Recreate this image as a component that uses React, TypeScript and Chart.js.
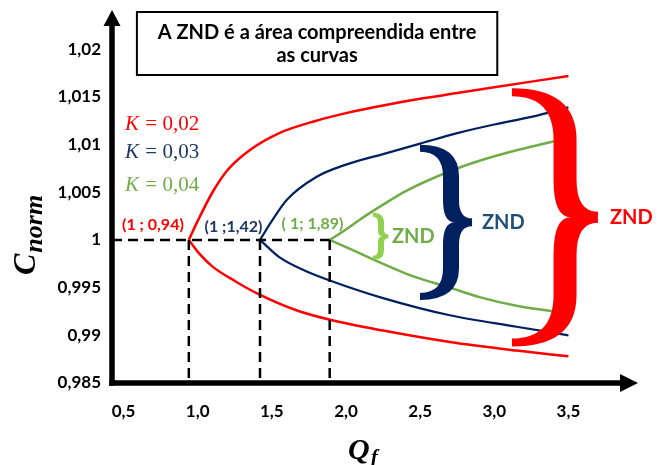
import React, { useEffect, useRef } from 'react';
import { Chart, registerables } from 'chart.js';

Chart.register(...registerables);

// ---- data ----
const xTicks = [0.5, 1, 1.5, 2, 2.5, 3, 3.5];
const xTickLabels = ['0,5', '1,0', '1,5', '2,0', '2,5', '3,0', '3,5'];
const yTicks = [0.985, 0.99, 0.995, 1, 1.005, 1.01, 1.015, 1.02];
const yTickLabels = ['0,985', '0,99', '0,995', '1', '1,005', '1,01', '1,015', '1,02'];

const redUpperQf = [0.94, 1.0, 1.1, 1.2, 1.35, 1.55, 1.8, 2.0, 2.25, 2.5, 2.75, 3.0, 3.25, 3.5];
const redUpperC = [1.0, 1.002, 1.005, 1.0073, 1.0094, 1.0112, 1.0125, 1.0133, 1.0141, 1.0148, 1.0154, 1.016, 1.0166, 1.0172];
const redLowerQf = [0.94, 1.02, 1.1, 1.25, 1.4, 1.67, 1.9, 2.25, 2.7, 3.15, 3.5];
const redLowerC = [1.0, 0.9984, 0.9972, 0.9957, 0.9944, 0.9926, 0.9916, 0.9905, 0.9893, 0.9884, 0.9878];

const blueUpperQf = [1.42, 1.5, 1.6, 1.8, 2.0, 2.25, 2.5, 2.75, 3.0, 3.25, 3.5];
const blueUpperC = [1.0, 1.002, 1.0042, 1.0066, 1.0079, 1.009, 1.0101, 1.0112, 1.0121, 1.0129, 1.0139];
const blueLowerQf = [1.42, 1.55, 1.72, 1.9, 2.25, 2.7, 3.15, 3.5];
const blueLowerC = [1.0, 0.9982, 0.9968, 0.9957, 0.9939, 0.9921, 0.9909, 0.99];

const greenUpperQf = [1.89, 2.0, 2.1, 2.25, 2.4, 2.7, 2.9, 3.15, 3.5];
const greenUpperC = [1.0, 1.0011, 1.0022, 1.0037, 1.0051, 1.0072, 1.0083, 1.0094, 1.0107];
const greenLowerQf = [1.89, 2.05, 2.25, 2.45, 2.7, 2.9, 3.15, 3.5];
const greenLowerC = [1.0, 0.9989, 0.9975, 0.9962, 0.995, 0.994, 0.9931, 0.9923];

const branchQf = [0.94, 1.42, 1.89];
const branchLabels = ['(1 ; 0,94)', '(1 ;1,42)', '( 1; 1,89)'];
const kLabels = ['0,02', '0,03', '0,04'];
const titleLines = ['A ZND é a área compreendida entre', 'as curvas'];

const RED = '#FF0000';
const BLUE = '#002060';
const GREEN = '#70AD47';

const X_MIN = 0.422;
const X_MAX = 3.969;
const Y_MIN = 0.985;
const Y_MAX = 1.02411;

// annotation anchors in data units
const branchLabelPos = [
  { x: 0.698, y: 1.00158, color: RED },
  { x: 1.241, y: 1.00142, color: '#1F3864' },
  { x: 1.774, y: 1.00174, color: GREEN },
];
const kLabelPos = [
  { x: 0.51, y: 1.01213, color: RED },
  { x: 0.51, y: 1.00914, color: '#1F3864' },
  { x: 0.51, y: 1.00573, color: GREEN },
];
const braces = [
  { tip: 2.182, arm: 2.236, point: 2.286, top: 1.00263, bot: 0.99812, t: 6, tt: 4, tp: 4, color: '#92D050' },
  { tip: 2.499, arm: 2.708, point: 2.85, top: 1.00961, bot: 0.99408, t: 16, tt: 7, tp: 8, color: '#002060' },
  { tip: 3.119, arm: 3.477, point: 3.699, top: 1.01549, bot: 0.98925, t: 23, tt: 8, tp: 11, color: RED },
];
const zndLabels = [
  { x: 2.31, y: 1.00032, color: GREEN },
  { x: 2.917, y: 1.00179, color: '#1F4E79' },
  { x: 3.78, y: 1.00232, color: RED },
];

function pts(xs: number[], ys: number[]) {
  return xs.map((x, i) => ({ x, y: ys[i] }));
}

function curve(xs: number[], ys: number[], color: string, width: number) {
  return {
    data: pts(xs, ys),
    borderColor: color,
    borderWidth: width,
    pointRadius: 0,
    fill: false,
    cubicInterpolationMode: 'monotone' as const,
  };
}

function dashed(data: { x: number; y: number }[]) {
  return {
    data,
    borderColor: '#000',
    borderWidth: 2.5,
    borderDash: [10, 6],
    pointRadius: 0,
    fill: false,
    tension: 0,
  };
}

function drawBrace(ctx: CanvasRenderingContext2D, x0: number, xa: number, xp: number, yTop: number, yBot: number, t: number, tt: number, tp: number, color: string) {
  const ym = (yTop + yBot) / 2;
  const h = (yBot - yTop) / 2;
  const r = h * 0.38;
  const r2 = h * 0.3;
  const a = xa - t / 2;
  const b = xa + t / 2;
  const cusp = xa + t * 0.25;
  ctx.save();
  ctx.fillStyle = color;
  ctx.beginPath();
  ctx.moveTo(x0, yTop - tt / 2);
  ctx.quadraticCurveTo(b, yTop - tt / 2, b, yTop + r);
  ctx.lineTo(b, ym - r2);
  ctx.quadraticCurveTo(b, ym - tp / 2, xp, ym - tp / 2);
  ctx.lineTo(xp, ym + tp / 2);
  ctx.quadraticCurveTo(b, ym + tp / 2, b, ym + r2);
  ctx.lineTo(b, yBot - r);
  ctx.quadraticCurveTo(b, yBot + tt / 2, x0, yBot + tt / 2);
  ctx.lineTo(x0, yBot - tt / 2);
  ctx.quadraticCurveTo(a, yBot - tt / 2, a, yBot - r);
  ctx.lineTo(a, ym + r2);
  ctx.quadraticCurveTo(a, ym, cusp, ym);
  ctx.quadraticCurveTo(a, ym, a, ym - r2);
  ctx.lineTo(a, yTop + r);
  ctx.quadraticCurveTo(a, yTop + tt / 2, x0, yTop + tt / 2);
  ctx.closePath();
  ctx.fill();
  ctx.restore();
}

const decorPlugin = {
  id: 'decor',
  afterDraw(chart: any) {
    const ctx: CanvasRenderingContext2D = chart.ctx;
    const xs = chart.scales.x;
    const ys = chart.scales.y;
    const px = (v: number) => xs.getPixelForValue(v);
    const py = (v: number) => ys.getPixelForValue(v);
    const area = chart.chartArea;

    ctx.save();
    // axes with arrows
    ctx.fillStyle = '#000';
    ctx.strokeStyle = '#000';
    ctx.lineWidth = 5.5;
    ctx.lineCap = 'butt';
    ctx.beginPath();
    ctx.moveTo(area.left, area.bottom + 2.75);
    ctx.lineTo(area.left, area.top + 12);
    ctx.stroke();
    ctx.beginPath();
    ctx.moveTo(area.left - 2.75, area.bottom);
    ctx.lineTo(area.right - 14, area.bottom);
    ctx.stroke();
    ctx.beginPath();
    ctx.moveTo(area.left, area.top);
    ctx.lineTo(area.left + 8.5, area.top + 16);
    ctx.lineTo(area.left - 8.5, area.top + 16);
    ctx.closePath();
    ctx.fill();
    ctx.beginPath();
    ctx.moveTo(area.right, area.bottom);
    ctx.lineTo(area.right - 18, area.bottom - 9);
    ctx.lineTo(area.right - 18, area.bottom + 9);
    ctx.closePath();
    ctx.fill();

    // title box
    const bx0 = px(0.59), bx1 = px(3.02);
    const by0 = 12, by1 = 75;
    ctx.fillStyle = '#fff';
    ctx.fillRect(bx0, by0, bx1 - bx0, by1 - by0);
    ctx.lineWidth = 2;
    ctx.strokeStyle = '#000';
    ctx.strokeRect(bx0, by0, bx1 - bx0, by1 - by0);
    ctx.fillStyle = '#000';
    ctx.font = 'bold 20px Lato';
    ctx.textAlign = 'center';
    ctx.textBaseline = 'middle';
    ctx.fillText(titleLines[0], (bx0 + bx1) / 2, 33);
    ctx.fillText(titleLines[1], (bx0 + bx1) / 2, 56);

    // K labels
    kLabelPos.forEach((k, i) => {
      const x = px(k.x), y = py(k.y);
      ctx.fillStyle = k.color;
      ctx.textAlign = 'left';
      ctx.textBaseline = 'middle';
      ctx.font = 'italic 21px "Liberation Serif"';
      ctx.fillText('K', x, y);
      const w = ctx.measureText('K').width;
      ctx.font = '21px "Liberation Serif"';
      ctx.fillText(' = ' + kLabels[i], x + w + 1, y);
    });

    // branch point labels
    branchLabelPos.forEach((p, i) => {
      ctx.fillStyle = p.color;
      ctx.font = 'bold 16px Lato';
      ctx.textAlign = 'center';
      ctx.textBaseline = 'middle';
      ctx.fillText(branchLabels[i], px(p.x), py(p.y));
    });

    // braces
    braces.forEach((b) => {
      drawBrace(ctx, px(b.tip), px(b.arm), px(b.point), py(b.top), py(b.bot), b.t, b.tt, b.tp, b.color);
    });

    // ZND labels
    zndLabels.forEach((z) => {
      ctx.fillStyle = z.color;
      ctx.font = 'bold 20px Lato';
      ctx.textAlign = 'left';
      ctx.textBaseline = 'middle';
      ctx.fillText('ZND', px(z.x), py(z.y));
    });

    // y axis title C_norm
    ctx.save();
    ctx.translate(35, 275);
    ctx.rotate(-Math.PI / 2);
    ctx.fillStyle = '#000';
    ctx.textAlign = 'left';
    ctx.textBaseline = 'alphabetic';
    ctx.font = 'bold italic 32px "Liberation Serif"';
    ctx.fillText('C', 0, 0);
    const cw = ctx.measureText('C').width;
    ctx.font = 'bold italic 26px "Liberation Serif"';
    ctx.fillText('norm', cw + 1, 7);
    ctx.restore();

    // x axis title Q_f
    ctx.fillStyle = '#000';
    ctx.textAlign = 'left';
    ctx.textBaseline = 'alphabetic';
    ctx.font = 'bold italic 30px "Liberation Serif"';
    ctx.fillText('Q', 348, 459);
    const qw = ctx.measureText('Q').width;
    ctx.font = 'bold italic 21px "Liberation Serif"';
    ctx.fillText('f', 348 + qw + 1, 464);

    ctx.restore();
  },
};

export default function App() {
  const ref = useRef<HTMLCanvasElement | null>(null);
  useEffect(() => {
    if (!ref.current) return;
    const datasets: any[] = [
      dashed([{ x: X_MIN, y: 1 }, { x: branchQf[2], y: 1 }]),
      ...branchQf.map((q) => dashed([{ x: q, y: 1 }, { x: q, y: Y_MIN }])),
      curve(redUpperQf, redUpperC, RED, 2.5),
      curve(redLowerQf, redLowerC, RED, 2.5),
      curve(blueUpperQf, blueUpperC, BLUE, 2.2),
      curve(blueLowerQf, blueLowerC, BLUE, 2.2),
      curve(greenUpperQf, greenUpperC, GREEN, 2.5),
      curve(greenLowerQf, greenLowerC, GREEN, 2.5),
    ];
    const chart = new Chart(ref.current, {
      type: 'line',
      data: { datasets },
      options: {
        animation: false,
        responsive: false,
        maintainAspectRatio: false,
        layout: { padding: { top: 10, right: 27, left: 0, bottom: 0 } },
        plugins: { legend: { display: false }, tooltip: { enabled: false } },
        scales: {
          x: {
            type: 'linear',
            min: X_MIN,
            max: X_MAX,
            grid: { display: false, drawTicks: false },
            border: { display: false },
            afterBuildTicks: (s: any) => {
              s.ticks = xTicks.map((v) => ({ value: v }));
            },
            afterFit: (s: any) => {
              s.height = 82;
              s.paddingLeft = 0;
              s.paddingRight = 0;
              s.paddingTop = 0;
              s.paddingBottom = 0;
            },
            ticks: {
              autoSkip: false,
              maxRotation: 0,
              padding: 18,
              color: '#000',
              font: { family: 'Lato', weight: 'bold', size: 17 },
              callback: (v: any) => xTickLabels[xTicks.indexOf(Number(v))] ?? '',
            },
          },
          y: {
            type: 'linear',
            min: Y_MIN,
            max: Y_MAX,
            grid: { display: false, drawTicks: false },
            border: { display: false },
            afterBuildTicks: (s: any) => {
              s.ticks = yTicks.map((v) => ({ value: v }));
            },
            afterFit: (s: any) => {
              s.width = 112;
              s.paddingLeft = 0;
              s.paddingRight = 0;
              s.paddingTop = 0;
              s.paddingBottom = 0;
            },
            ticks: {
              autoSkip: false,
              padding: 11,
              color: '#000',
              font: { family: 'Lato', weight: 'bold', size: 17 },
              callback: (v: any) => yTickLabels[yTicks.indexOf(Number(v))] ?? '',
            },
          },
        },
      },
      plugins: [decorPlugin],
    });
    return () => chart.destroy();
  }, []);

  return (
    <div style={{ position: 'fixed', left: 0, top: 0, width: 665, height: 465, background: '#fff' }}>
      <canvas ref={ref} width={665} height={465} style={{ display: 'block' }} />
    </div>
  );
}
